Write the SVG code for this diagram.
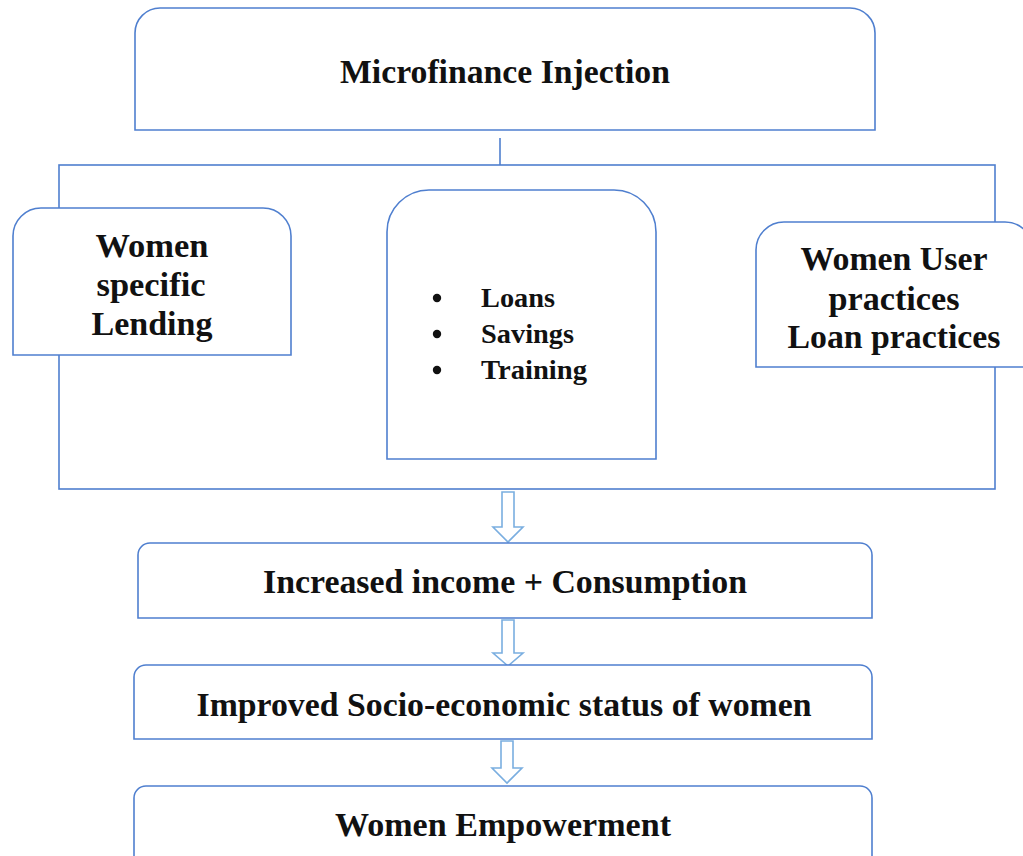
<svg xmlns="http://www.w3.org/2000/svg" width="1023" height="856" viewBox="0 0 1023 856">
<style>
.box{fill:#fff;stroke:#4f7fcf;stroke-width:1.6}
.ln{fill:none;stroke:#4f7fcf;stroke-width:1.6}
.arr{fill:#fff;stroke:#7aaee0;stroke-width:1.6}
text{font-family:"Liberation Serif","Times New Roman",Times,serif;font-weight:bold;fill:#111}
.big{font-size:33px}
.mid{font-size:34px}
.sm{font-size:27px}
</style>
<rect width="1023" height="856" fill="#fff"/>
<g id="connectors">
<line class="ln" x1="500" y1="138" x2="500" y2="165"/>
<rect id="container" class="ln" x="59" y="165" width="936" height="324"/>
<polygon class="arr" points="502,492 514,492 514,527 523,527 508,542 493,527 502,527"/>
<polygon class="arr" points="502,620 514,620 514,653 523,653 508,666 493,653 502,653"/>
<polygon class="arr" points="501,741 513,741 513,768 522,768 507,783 492,768 501,768"/>
</g>
<g id="microfinance">
<path class="box" d="M135,130 V33 A25,25 0 0 1 160,8 H850 A25,25 0 0 1 875,33 V130 Z"/>
<text class="big" x="505" y="83" text-anchor="middle" textLength="330" lengthAdjust="spacingAndGlyphs">Microfinance Injection</text>
</g>
<g id="women-specific">
<path class="box" d="M13,355 V236 A28,28 0 0 1 41,208 H263 A28,28 0 0 1 291,236 V355 Z"/>
<text class="mid" x="152" y="257" text-anchor="middle" textLength="113" lengthAdjust="spacingAndGlyphs">Women</text>
<text class="mid" x="151" y="296" text-anchor="middle" textLength="109" lengthAdjust="spacingAndGlyphs">specific</text>
<text class="mid" x="152" y="335" text-anchor="middle" textLength="121" lengthAdjust="spacingAndGlyphs">Lending</text>
</g>
<g id="services">
<path class="box" d="M387,459 V232 A42,42 0 0 1 429,190 H614 A42,42 0 0 1 656,232 V459 Z"/>
<circle cx="437" cy="298" r="4.2" fill="#111"/>
<circle cx="437" cy="334" r="4.2" fill="#111"/>
<circle cx="437" cy="370" r="4.2" fill="#111"/>
<text class="sm" x="481" y="307" textLength="74" lengthAdjust="spacingAndGlyphs">Loans</text>
<text class="sm" x="481" y="343" textLength="93" lengthAdjust="spacingAndGlyphs">Savings</text>
<text class="sm" x="481" y="379" textLength="106" lengthAdjust="spacingAndGlyphs">Training</text>
</g>
<g id="women-user">
<path class="box" d="M756,367 V250 A28,28 0 0 1 784,222 H1005 A28,28 0 0 1 1033,250 V367 Z"/>
<text class="mid" x="894" y="270" text-anchor="middle" textLength="187" lengthAdjust="spacingAndGlyphs">Women User</text>
<text class="mid" x="894" y="310" text-anchor="middle" textLength="131" lengthAdjust="spacingAndGlyphs">practices</text>
<text class="mid" x="894" y="348" text-anchor="middle" textLength="213" lengthAdjust="spacingAndGlyphs">Loan practices</text>
</g>
<g id="income">
<path class="box" d="M138,618 V555 A12,12 0 0 1 150,543 H860 A12,12 0 0 1 872,555 V618 Z"/>
<text class="big" x="505" y="593" text-anchor="middle" textLength="484" lengthAdjust="spacingAndGlyphs">Increased income + Consumption</text>
</g>
<g id="socio">
<path class="box" d="M134,739 V677 A12,12 0 0 1 146,665 H860 A12,12 0 0 1 872,677 V739 Z"/>
<text class="big" x="504" y="716" text-anchor="middle" textLength="615" lengthAdjust="spacingAndGlyphs">Improved Socio-economic status of women</text>
</g>
<g id="empowerment">
<path class="box" d="M134,866 V798 A12,12 0 0 1 146,786 H860 A12,12 0 0 1 872,798 V866 Z"/>
<text class="big" x="503" y="836" text-anchor="middle" textLength="336" lengthAdjust="spacingAndGlyphs">Women Empowerment</text>
</g>
</svg>
